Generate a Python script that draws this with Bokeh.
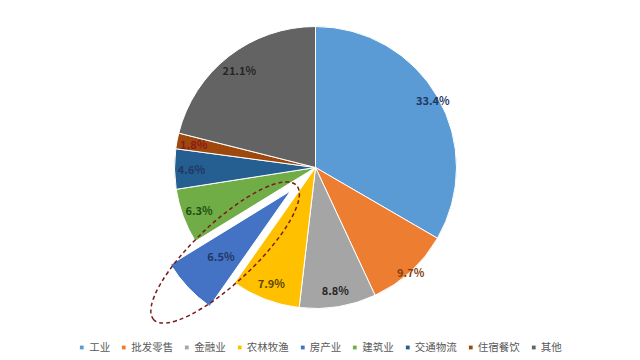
import math
from bokeh.plotting import figure
from bokeh.models import Legend, LegendItem, ColumnDataSource
from bokeh.core.properties import value
from bokeh.embed import file_html
from bokeh.resources import INLINE

# ---- data ----
categories = ["工业", "批发零售", "金融业", "农林牧渔", "房产业", "建筑业", "交通物流", "住宿餐饮", "其他"]
shares = [33.4, 9.7, 8.8, 7.9, 6.5, 6.3, 4.6, 1.8, 21.1]
labels = ["33.4%", "9.7%", "8.8%", "7.9%", "6.5%", "6.3%", "4.6%", "1.8%", "21.1%"]
highlighted = "房产业"

# ---- style ----
colors = ["#5B9BD5", "#ED7D31", "#A5A5A5", "#FFC000", "#4472C4", "#70AD47", "#255E91", "#9E480E", "#636363"]
label_colors = ["#1F3864", "#843C0C", "#262626", "#5C4400", "#1F3864", "#1E4D12", "#1F3864", "#8B1A1A", "#262626"]
label_fracs = [0.96, 1.0, 0.88, 0.88, 0.68, 0.88, 0.88, 0.88, 0.88]
CX, CY, R = 315, 193, 141
EXPLODE = 34
FONT = "Noto Sans CJK SC"

W, H = 640, 360
p = figure(width=W, height=H, x_range=(0, W), y_range=(0, H),
           output_backend="svg", toolbar_location=None, min_border=0)
p.axis.visible = False
p.grid.visible = False
p.outline_line_color = None
p.background_fill_color = "white"

total = sum(shares)
starts, ends, xs, ys, lx, ly = [], [], [], [], [], []
cum = 0.0
for cat, v, frac in zip(categories, shares, label_fracs):
    a0 = math.pi / 2 - 2 * math.pi * cum / total
    a1 = math.pi / 2 - 2 * math.pi * (cum + v) / total
    mid = (a0 + a1) / 2
    off = EXPLODE if cat == highlighted else 0
    cx = CX + off * math.cos(mid)
    cy = CY + off * math.sin(mid)
    starts.append(a0); ends.append(a1)
    xs.append(cx); ys.append(cy)
    lx.append(cx + frac * R * math.cos(mid))
    ly.append(cy + frac * R * math.sin(mid))
    if cat == highlighted:
        hl_mid = mid
    cum += v

src = ColumnDataSource(dict(x=xs, y=ys, start=starts, end=ends, color=colors,
                            cat=categories, lx=lx, ly=ly, label=labels, lcolor=label_colors))

r = p.wedge(x="x", y="y", radius=R, start_angle="end", end_angle="start",
            fill_color="color", line_color="white", line_width=1, source=src)

p.text(x="lx", y="ly", text="label", text_color="lcolor", source=src,
       text_font=value(FONT), text_font_size="11px", text_font_style="bold",
       text_align="center", text_baseline="middle")

# dashed highlight ellipse around exploded slice
ex = CX + 0.88 * R * math.cos(hl_mid)
ey = CY + 0.88 * R * math.sin(hl_mid)
p.ellipse(x=[ex], y=[ey], width=[196], height=[60], angle=hl_mid,
          fill_color=None, line_color="#7B1C1C", line_dash="4 3", line_width=1.5)

items = [LegendItem(label=c, renderers=[r], index=i) for i, c in enumerate(categories)]
legend = Legend(items=items, orientation="horizontal", location="bottom_center",
                glyph_width=6, glyph_height=6, label_standoff=5, spacing=10,
                label_text_font=FONT, label_text_font_size="10.5px",
                label_text_color="#595959", border_line_color=None,
                background_fill_alpha=0, padding=0, margin=6,
                label_height=12, label_width=10)
p.add_layout(legend)

open("out.html", "w").write(file_html(p, INLINE))
